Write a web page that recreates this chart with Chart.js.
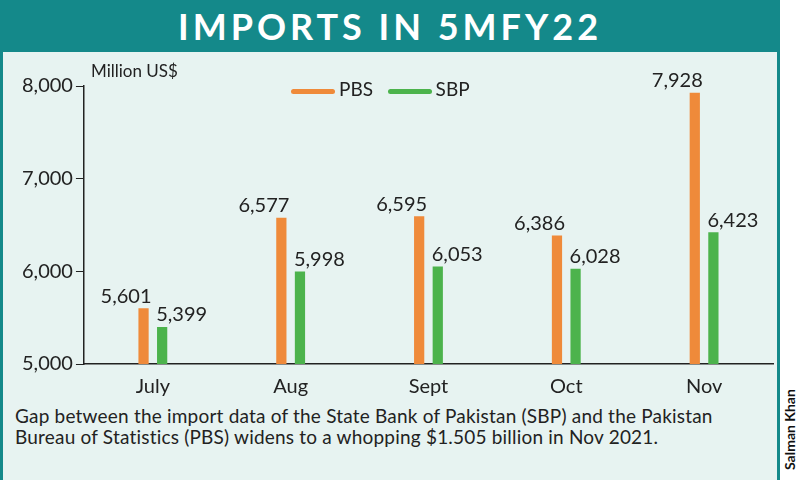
<!DOCTYPE html>
<html><head><meta charset="utf-8">
<script src="https://cdn.jsdelivr.net/npm/chart.js@4.4.0/dist/chart.umd.min.js"></script>
<style>
body{margin:0;width:800px;height:480px;overflow:hidden;background:#fff;font-family:Lato,"Noto Sans",sans-serif}
#frame{position:absolute;left:0;top:0;width:780px;height:480px;background:#14898a}
#title{position:absolute;left:0;top:0;width:780px;height:52px;line-height:52px;text-align:center;color:#fff;font-size:36px;font-weight:bold;letter-spacing:4px}
#panel{position:absolute;left:3px;top:52px;width:774px;height:428px;background:#e7f3f1}
#wrap{position:absolute;left:0;top:14px;width:774px;height:336px}
#unit{position:absolute;left:88px;top:8px;font-size:17px;color:#222}
#legend{position:absolute;left:288px;top:25px;font-size:19px;color:#222}
#legend span.sw{display:inline-block;width:44px;height:5px;border-radius:3px;vertical-align:middle;margin-right:4px}
#caption{position:absolute;left:12px;top:353px;width:720px;font-size:19px;line-height:21px;color:#222;letter-spacing:0.2px}
#credit{position:absolute;left:781px;top:470px;transform-origin:0 0;transform:rotate(-90deg);font-size:14px;font-weight:bold;color:#111;white-space:nowrap}
</style></head><body>
<div id="frame">
<div id="title">IMPORTS IN 5MFY22</div>
<div id="panel">
<div id="wrap"><canvas id="c"></canvas></div>
<div id="unit">Million US$</div>
<div id="legend"><span class="sw" style="background:#ef8a3a"></span>PBS &nbsp;&nbsp;<span class="sw" style="background:#4cb34c"></span>SBP</div>
<div id="caption">Gap between the import data of the State Bank of Pakistan (SBP) and the Pakistan Bureau of Statistics (PBS) widens to a whopping $1.505 billion in Nov 2021.</div>
</div>
</div>
<div id="credit">Salman Khan</div>
<script>
const months = ['July', 'Aug', 'Sept', 'Oct', 'Nov'];
const pbs = [5601, 6577, 6595, 6386, 7928];
const sbp = [5399, 5998, 6053, 6028, 6423];
const yTicks = [5000, 6000, 7000, 8000];

// draw value labels next to bar tops
const valueLabels = {
    id: 'valueLabels',
    afterDatasetsDraw(chart) {
        const ctx = chart.ctx;
        ctx.save();
        ctx.font = '20px Lato, "Noto Sans", sans-serif';
        ctx.fillStyle = '#222';
        ctx.textBaseline = 'bottom';
        chart.data.datasets.forEach((ds, i) => {
            chart.getDatasetMeta(i).data.forEach((bar, j) => {
                const txt = ds.data[j].toLocaleString('en-US');
                ctx.textAlign = i === 0 ? 'right' : 'left';
                ctx.fillText(txt, bar.x + (i === 0 ? 8 : -6), bar.y - 2);
            });
        });
        ctx.restore();
    }
};

new Chart(document.getElementById('c'), {
    type: 'bar',
    data: {
        labels: months,
        datasets: [
            { label: 'PBS', data: pbs, backgroundColor: '#ef8a3a' },
            { label: 'SBP', data: sbp, backgroundColor: '#4cb34c' }
        ]
    },
    options: {
        responsive: true,
        maintainAspectRatio: false,
        animation: false,
        layout: { padding: { top: 20, right: 4, left: 16 } },
        datasets: { bar: { categoryPercentage: 0.27, barPercentage: 0.55 } },
        plugins: { legend: { display: false }, tooltip: { enabled: false } },
        scales: {
            x: {
                grid: { display: false },
                border: { color: '#222', width: 1.5 },
                ticks: { color: '#222', font: { size: 20, family: 'Lato' } }
            },
            y: {
                min: 5000, max: 8000,
                afterBuildTicks: axis => { axis.ticks = yTicks.map(v => ({ value: v })); },
                grid: { drawOnChartArea: false, color: '#222', tickLength: 8 },
                border: { color: '#222', width: 1.5 },
                ticks: { color: '#222', font: { size: 20, family: 'Lato' },
                    callback: v => v.toLocaleString('en-US') }
            }
        }
    },
    plugins: [valueLabels]
});
</script>
</body></html>
